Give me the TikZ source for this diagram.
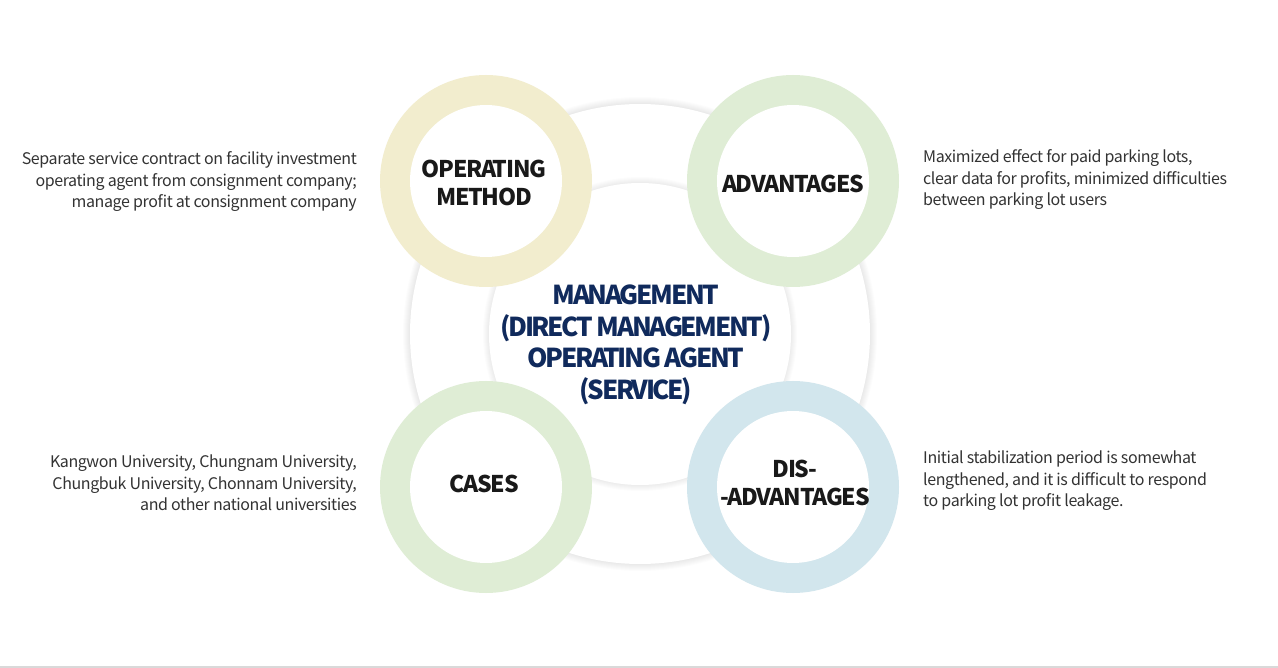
\documentclass[tikz,border=0pt]{standalone}
\usepackage{fontspec}
\setmainfont{Noto Sans CJK KR}
\newfontfamily\notefont{Noto Sans CJK KR}[LetterSpace=-2.5]
\newfontfamily\titlefont{Noto Sans CJK KR}[LetterSpace=-5.5]
\newfontfamily\hubfont{Noto Sans CJK KR}[LetterSpace=-9]
\usepackage{tikz}
\usetikzlibrary{positioning}
\definecolor{ringyellow}{RGB}{242,237,206}
\definecolor{ringgreen}{RGB}{223,237,213}
\definecolor{ringblue}{RGB}{210,230,237}
\definecolor{navy}{RGB}{16,42,92}
\definecolor{sidegray}{RGB}{51,51,51}
\begin{document}
\begin{tikzpicture}[x=1pt,y=-1pt,
	ring/.style={fill=#1},
	hole/.style={fill=white},
	title/.style={font=\titlefont\fontsize{23}{28}\selectfont\bfseries, text=black!90, align=center, inner sep=0pt},
	hubtext/.style={font=\hubfont\fontsize{26}{31.5}\selectfont\bfseries, text=navy, align=center, inner sep=0pt},
	note/.style={font=\notefont\fontsize{16}{21.5}\selectfont, text=sidegray, inner sep=0pt}]
%		\draw [help lines, step=50] (0,0) grid (1278,668);
		\useasboundingbox (0,0) rectangle (1278,668);
		\fill [white] (0,0) rectangle (1278,668);
		\draw [black!15, line width=1.5] (0,667) -- (1278,667);
		\coordinate (c) at (640,334);
		% soft glow round the big ring and the inner disk
		\foreach \k in {1,...,7} \fill [black, opacity=0.013] (c) circle [radius=230pt+\k pt];
		\fill [white] (c) circle [radius=230pt];
		\foreach \k in {1,...,6} \fill [black, opacity=0.013] (c) circle [radius=151pt+\k pt];
		\fill [white] (c) circle [radius=151pt];
		% four rings
		\fill [ring=ringyellow] (486,181) circle [radius=106pt];
		\fill [hole] (486,181) circle [radius=76pt];
		\fill [ring=ringgreen] (793,181) circle [radius=106pt];
		\fill [hole] (793,181) circle [radius=76pt];
		\fill [ring=ringgreen] (486,487) circle [radius=106pt];
		\fill [hole] (486,487) circle [radius=76pt];
		\fill [ring=ringblue] (793,487) circle [radius=106pt];
		\fill [hole] (793,487) circle [radius=76pt];
		% labels
		\node [hubtext] (hub) at (636,345) {MANAGEMENT\\(DIRECT MANAGEMENT)\\OPERATING AGENT\\(SERVICE)};
		\node [title] (method) at (484,183) {OPERATING\\METHOD};
		\node [title] (adv) at (793,184) {ADVANTAGES};
		\node [title] (cases) at (484,484) {CASES};
		\node [title] (disadv) at (795,483) {DIS-\\-ADVANTAGES};
		\node [note, anchor=east, align=right] (methodnote) at (357,182) {Separate service contract on facility investment\\operating agent from consignment company;\\manage profit at consignment company};
		\node [note, anchor=west, align=left] (advnote) at (923,180) {Maximized effect for paid parking lots,\\clear data for profits, minimized difficulties\\between parking lot users};
		\node [note, anchor=east, align=right] (casesnote) at (357,483) {Kangwon University, Chungnam University,\\Chungbuk University, Chonnam University,\\and other national universities};
		\node [note, anchor=west, align=left] (disadvnote) at (923,481) {Initial stabilization period is somewhat\\lengthened, and it is difficult to respond\\to parking lot profit leakage.};
\end{tikzpicture}
\end{document}
